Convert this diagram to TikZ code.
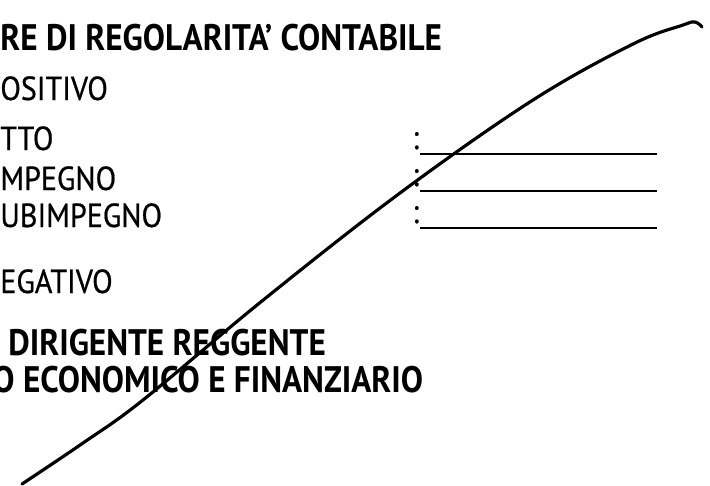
\documentclass[tikz,border=0pt]{standalone}
\usepackage{fontspec}
\setmainfont{PT Sans}[FakeStretch=0.9]
\usetikzlibrary{calc}
\tikzstyle{voce}=[anchor=base west,inner sep=0pt,font=\fontsize{19}{22}\selectfont\addfontfeature{FakeBold=0.6}]
\tikzstyle{titolo}=[anchor=base west,inner sep=0pt,font=\fontsize{21}{24}\selectfont\bfseries]
\tikzstyle{riga} = [draw,line width=1.1pt]
\tikzstyle{firma} = [draw,line width=1.8pt,line cap=round,line join=round]

\begin{document}
\begin{tikzpicture}[x=0.02cm,y=-0.02cm]

  \useasboundingbox (0,0) rectangle (710,485);
  \clip (0,0) rectangle (710,485);

% Label
  \node[titolo] (parere) at (0,50) {RE DI REGOLARITA’ CONTABILE};

  \foreach \pos/\name/\testo in {{(0,100)/pos/OSITIVO}, {(0,150)/att/TTO}, {(0,190)/imp/MPEGNO}, {(0,227)/sub/UBIMPEGNO}, {(0,293)/neg/EGATIVO}}
      \node[voce] (\name) at \pos {\testo};

  \node[titolo] (dir) at (8,355) {DIRIGENTE REGGENTE};
  \node[titolo] (serv) at (-8,392) {O ECONOMICO E FINANZIARIO};

% colons and lines
  \foreach \y/\name in {149/c1, 186/c2, 223/c3}
      \node[voce] (\name) at (412,\y) {:};
  \foreach \y in {154, 191, 228}
      \path[riga] (420,\y) -- (657,\y);

% firma
  \path[firma] plot[smooth,tension=0.6] coordinates {(22,484) (83,443) (143,400) (262,301) (400,193) (533,100) (633,44) (683,25) (695,22) (702,27)};

\end{tikzpicture}
\end{document}
